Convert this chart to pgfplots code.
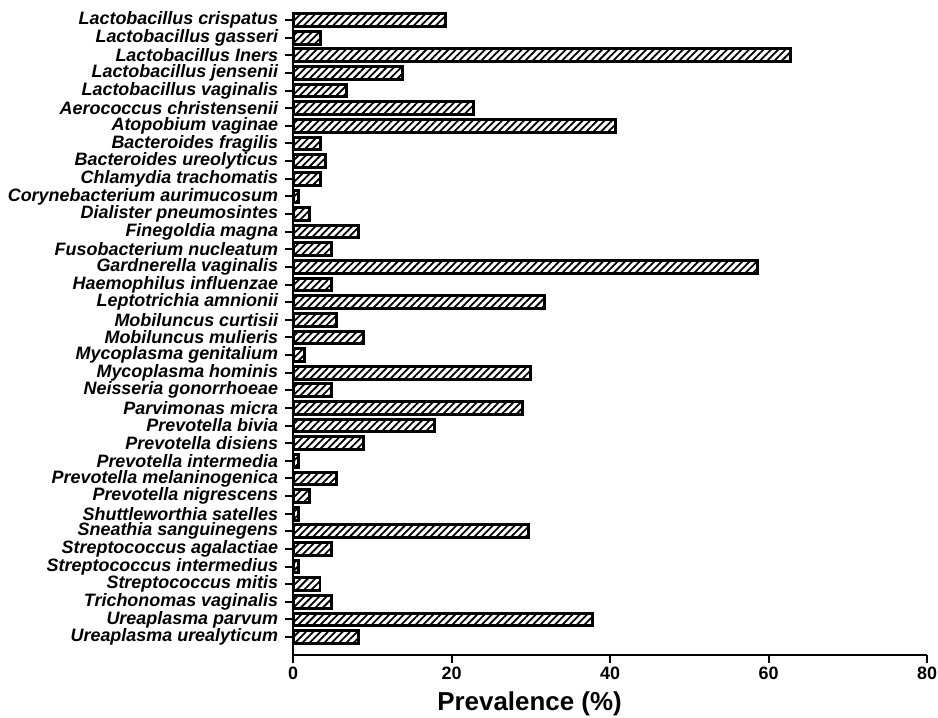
\documentclass[border=0pt]{standalone}
\usepackage{fontspec}
\setmainfont{Liberation Sans}
\usepackage{pgfplots}
\pgfplotsset{compat=1.18}
\usepackage{pgfplotstable}
\usetikzlibrary{patterns.meta}
\pgfplotstableread{
y x
35 19.2
34 3.5
33 62.8
32 13.8
31 6.8
30 22.8
29 40.7
28 3.5
27 4.1
26 3.5
25 0.7
24 2.1
23 8.2
22 4.8
21 58.6
20 4.8
19 31.7
18 5.5
17 8.9
16 1.4
15 30.0
14 4.8
13 28.9
12 17.8
11 8.9
10 0.7
9 5.5
8 2.1
7 0.7
6 29.7
5 4.8
4 0.7
3 3.4
2 4.8
1 37.8
0 8.2
}\prev
\begin{document}
\begin{tikzpicture}
\useasboundingbox (-147pt,-31.5pt) rectangle (323.5pt,328.6pt);
\begin{axis}[
 at={(0,0)}, anchor=south west,
 scale only axis, width=318pt, height=322.5pt,
 xmin=0, xmax=80, ymin=-1.02, ymax=35.45,
 axis x line*=bottom, axis y line*=left,
 axis line style={line width=1pt},
 xtick={0,20,40,60,80},
 ytick={0,...,35},
 yticklabels={Ureaplasma urealyticum, Ureaplasma parvum, Trichonomas vaginalis, Streptococcus mitis, Streptococcus intermedius, Streptococcus agalactiae, Sneathia sanguinegens, Shuttleworthia satelles, Prevotella nigrescens, Prevotella melaninogenica, Prevotella intermedia, Prevotella disiens, Prevotella bivia, Parvimonas micra, Neisseria gonorrhoeae, Mycoplasma hominis, Mycoplasma genitalium, Mobiluncus mulieris, Mobiluncus curtisii, Leptotrichia amnionii, Haemophilus influenzae, Gardnerella vaginalis, Fusobacterium nucleatum, Finegoldia magna, Dialister pneumosintes, Corynebacterium aurimucosum, Chlamydia trachomatis, Bacteroides ureolyticus, Bacteroides fragilis, Atopobium vaginae, Aerococcus christensenii, Lactobacillus vaginalis, Lactobacillus jensenii, Lactobacillus Iners, Lactobacillus gasseri, Lactobacillus crispatus},
 tick align=outside, major tick length=4pt,
 tick style={line width=1pt, black},
 xticklabel style={font=\fontsize{9}{10}\selectfont\bfseries, yshift=1.5pt},
 yticklabel style={font=\fontsize{9}{10}\selectfont\bfseries\itshape},
 /pgf/number format/assume math mode=true,
 xlabel={Prevalence (\%)},
 xlabel style={font=\fontsize{13}{15}\selectfont\bfseries, at={(axis description cs:0.373,0)}, anchor=base, yshift=-28pt},
 xbar, bar width=0.72,
]
\addplot[draw=black, line width=1.5pt, pattern={Lines[angle=45,distance=2.6pt,line width=0.9pt]}, pattern color=black] table[x=x, y=y] {\prev};
\end{axis}
\end{tikzpicture}
\end{document}
